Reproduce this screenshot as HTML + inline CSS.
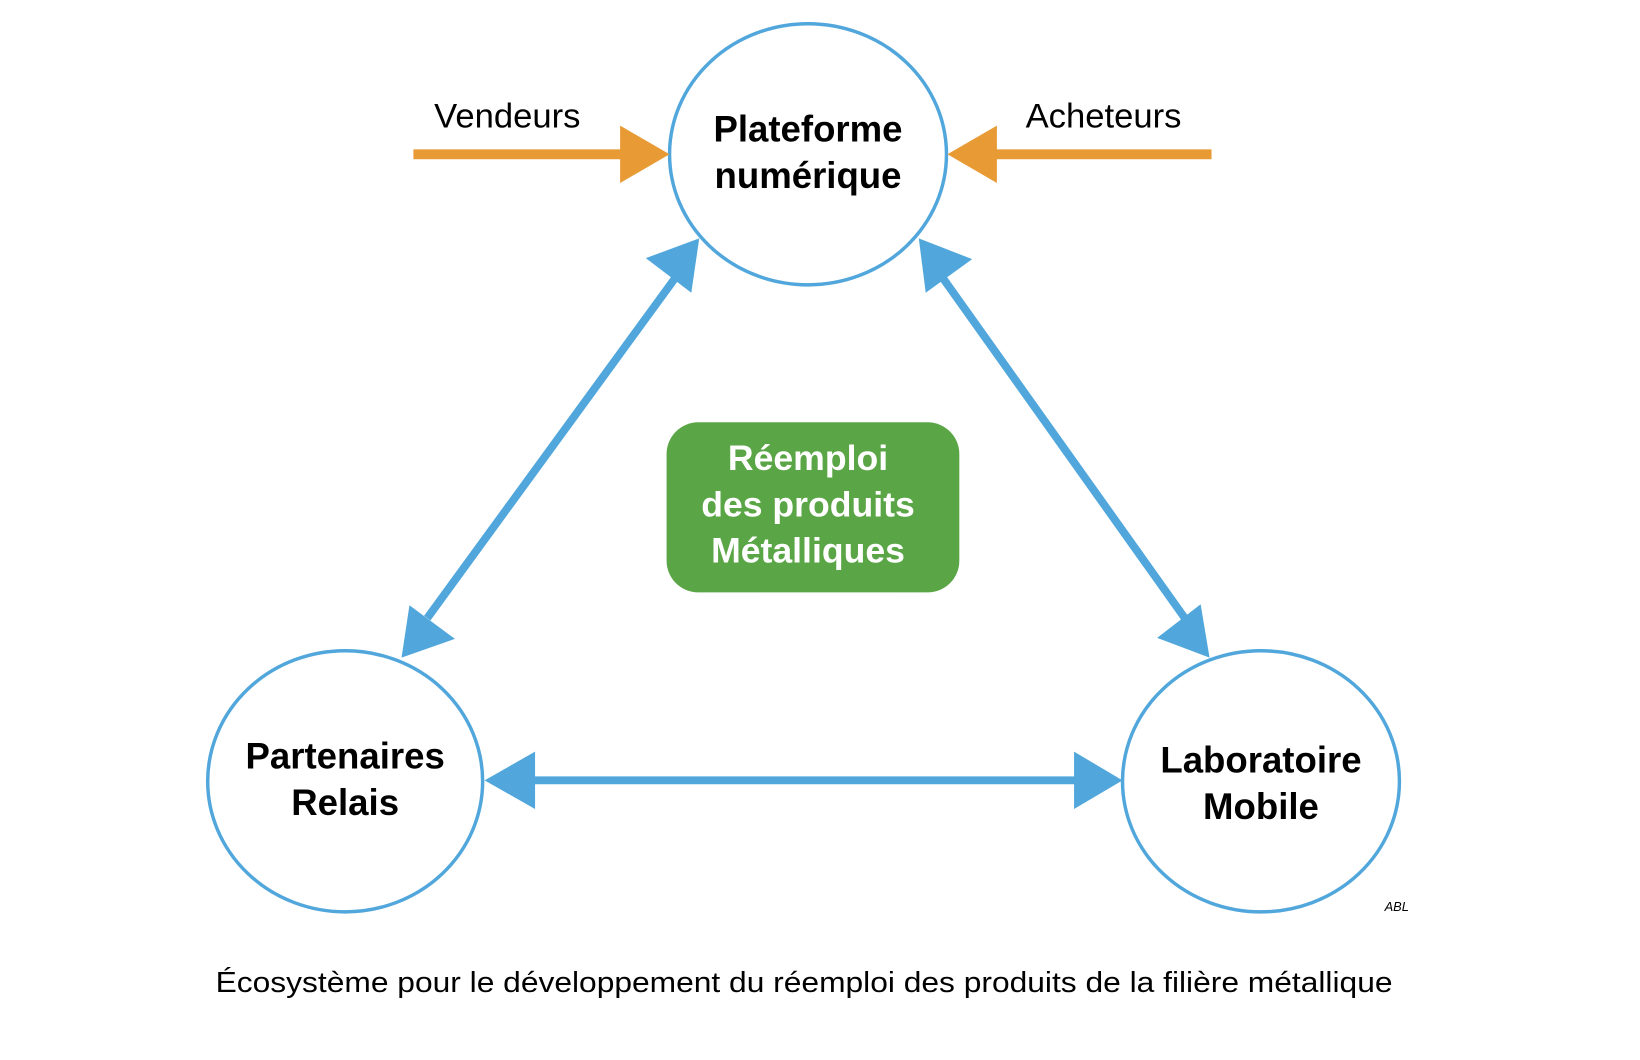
<!DOCTYPE html>
<html><head><meta charset="utf-8"><style>html,body{margin:0;padding:0;background:#fff}svg{display:block}</style></head><body>
<svg width="1640" height="1060" viewBox="0 0 1640 1060" xmlns="http://www.w3.org/2000/svg" font-family="Liberation Sans, sans-serif">
<g transform="scale(0.989)">
<g fill="none" stroke="#51a7dc" stroke-width="3.5">
<ellipse cx="817" cy="156" rx="140" ry="132"/>
<ellipse cx="349" cy="790" rx="139" ry="132"/>
<ellipse cx="1275" cy="790" rx="140" ry="132"/>
</g>
<g fill="#e89a35">
<rect x="418" y="151" width="212" height="10"/>
<polygon points="677,156 627,127 627,185"/>
<rect x="1005" y="151" width="220" height="10"/>
<polygon points="958,156 1008,127 1008,185"/>
</g>
<g stroke="#51a7dc" stroke-width="8">
<line x1="682" y1="282" x2="432" y2="625"/>
<line x1="954" y1="282" x2="1198" y2="625"/>
<line x1="535" y1="789" x2="1090" y2="789"/>
</g>
<g fill="#51a7dc">
<polygon points="707,241 653,261 699,296"/>
<polygon points="406,665 414,612 460,646"/>
<polygon points="929,241 983,262 936,296"/>
<polygon points="1223,665 1170,645 1214,611"/>
<polygon points="490,789 541,760 541,818"/>
<polygon points="1135,789 1086,760 1086,818"/>
</g>
<rect x="674" y="427" width="296" height="172" rx="32" fill="#5aa546"/>
<g font-weight="bold" font-size="37" text-anchor="middle" fill="#000">
<text x="817" y="143">Plateforme</text>
<text x="817" y="190">numérique</text>
<text x="349" y="777">Partenaires</text>
<text x="349" y="824">Relais</text>
<text x="1275" y="781">Laboratoire</text>
<text x="1275" y="828">Mobile</text>
</g>
<g font-weight="bold" font-size="36" text-anchor="middle" fill="#fff">
<text x="817" y="475">Réemploi</text>
<text x="817" y="522">des produits</text>
<text x="817" y="569">Métalliques</text>
</g>
<text x="439" y="129" font-size="35">Vendeurs</text>
<text x="1037" y="129" font-size="35">Acheteurs</text>
<text x="1400" y="921" font-size="13" font-style="italic">ABL</text>
<text x="218" y="1003" font-size="29" textLength="1190" lengthAdjust="spacingAndGlyphs">Écosystème pour le développement du réemploi des produits de la filière métallique</text>
</g>
</svg>
</body></html>
